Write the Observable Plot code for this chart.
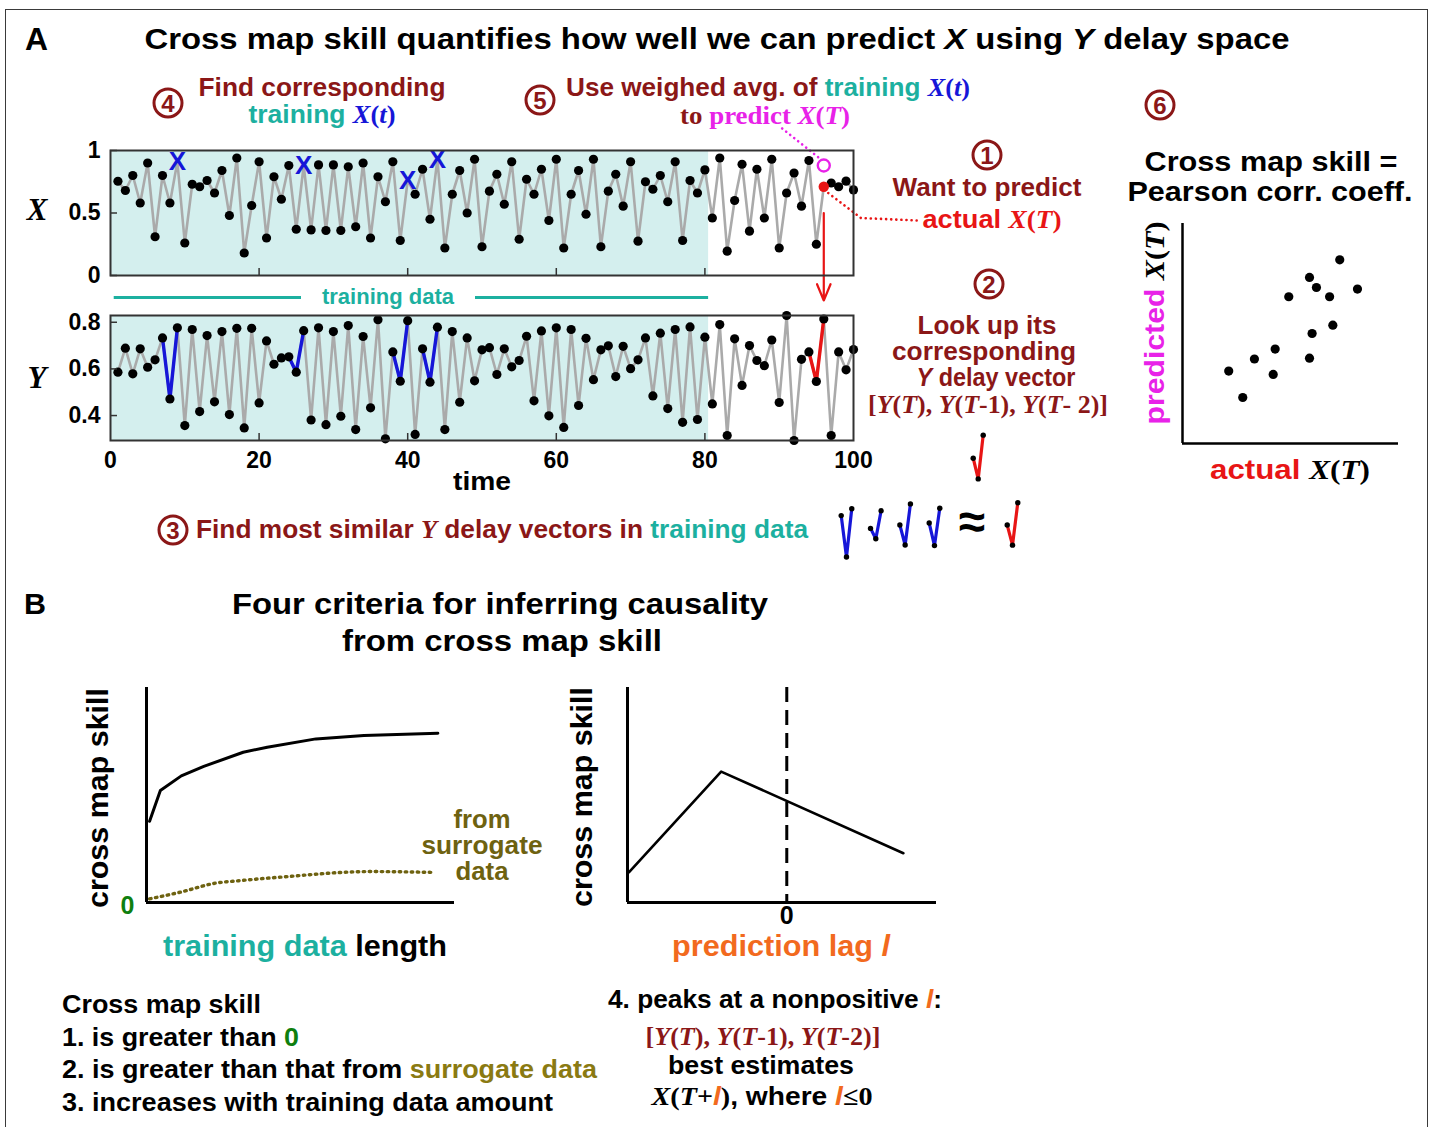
<!DOCTYPE html>
<html>
<head>
<meta charset="utf-8">
<title>Convergent cross mapping</title>
<script src="https://cdn.jsdelivr.net/npm/d3@7"></script>
<script src="https://cdn.jsdelivr.net/npm/@observablehq/plot@0.6"></script>
<style>
  html, body { margin: 0; padding: 0; background: #fff; }
  #fig { position: relative; width: 1432px; height: 1127px; overflow: hidden; background: #fff;
         font-family: "Liberation Sans", Arial, sans-serif; font-weight: bold; color: #000; }
  .border { position: absolute; left: 5px; top: 9px; width: 1423px; height: 1300px;
            border: 1.5px solid #3a3a3a; box-sizing: border-box; }
  .t { position: absolute; white-space: nowrap; line-height: 0.82; }
  .s { font-family: "Liberation Serif", "Times New Roman", serif; font-weight: bold; }
  .circ { position: absolute; width: 25px; height: 25px; border: 3px solid #8b1717; border-radius: 50%;
          color: #8b1717; font-size: 24px; line-height: 26px; text-align: center; transform: translate(-50%, -50%); }
</style>
</head>
<body>
<div id="fig"><div class="border"></div></div>
<script>
// ---- data -------------------------------------------------------------
const time = d3.range(1, 101);
const xValues = [
  0.754, 0.68, 0.80, 0.58, 0.90, 0.31, 0.80, 0.58, 0.91, 0.26,
  0.73, 0.71, 0.76, 0.66, 0.84, 0.48, 0.94, 0.18, 0.56, 0.91,
  0.30, 0.79, 0.61, 0.88, 0.37, 0.88, 0.365, 0.885, 0.36, 0.885,
  0.36, 0.87, 0.39, 0.90, 0.30, 0.79, 0.59, 0.91, 0.28, 0.76,
  0.65, 0.85, 0.45, 0.93, 0.22, 0.65, 0.84, 0.50, 0.93, 0.23,
  0.675, 0.81, 0.57, 0.91, 0.29, 0.77, 0.65, 0.85, 0.44, 0.93,
  0.22, 0.65, 0.84, 0.49, 0.93, 0.23, 0.675, 0.81, 0.555, 0.91,
  0.275, 0.75, 0.69, 0.80, 0.59, 0.91, 0.28, 0.76, 0.66, 0.845,
  0.46, 0.94, 0.195, 0.60, 0.89, 0.355, 0.85, 0.46, 0.93, 0.22,
  0.66, 0.82, 0.555, 0.92, 0.25, 0.71, 0.74, 0.71, 0.755, 0.685
];
const yValues = [
  0.586, 0.689, 0.579, 0.686, 0.607, 0.639, 0.733, 0.471, 0.776, 0.357,
  0.769, 0.417, 0.743, 0.459, 0.760, 0.404, 0.774, 0.347, 0.774, 0.454,
  0.720, 0.620, 0.647, 0.652, 0.586, 0.764, 0.381, 0.776, 0.361, 0.760,
  0.397, 0.786, 0.340, 0.739, 0.433, 0.811, 0.300, 0.673, 0.547, 0.807,
  0.319, 0.686, 0.543, 0.779, 0.340, 0.760, 0.457, 0.733, 0.549, 0.682,
  0.691, 0.576, 0.686, 0.609, 0.636, 0.740, 0.463, 0.763, 0.399, 0.776,
  0.349, 0.769, 0.443, 0.731, 0.554, 0.682, 0.699, 0.567, 0.697, 0.601,
  0.639, 0.733, 0.484, 0.753, 0.430, 0.769, 0.371, 0.780, 0.383, 0.736,
  0.450, 0.790, 0.314, 0.729, 0.529, 0.700, 0.636, 0.614, 0.724, 0.456,
  0.829, 0.293, 0.641, 0.673, 0.546, 0.814, 0.314, 0.673, 0.596, 0.683
];
const training = {start: 0, end: 80.5};
const neighborTimes = [9, 26, 40, 44];
const targetTime = 96;
const predictedX = 0.88;
const embedDim = 3;

const timeTicks = [0, 20, 40, 60, 80, 100];
const xPanelTicks = [0, 0.5, 1];
const yPanelTicks = [0.4, 0.6, 0.8];

// callout leaders (time, value in the X panel)
const predictLeader = [{t: 90.4, v: 1.176}, {t: 95.6, v: 0.93}];
const actualLeader = [{t: 96.6, v: 0.66}, {t: 101, v: 0.46}, {t: 108.5, v: 0.44}];
const arrowSpan = {from: 0.5, to: -0.2};

// actual vs predicted X(T)
const actualX = [2.14, 2.79, 3.33, 4.20, 4.29, 4.92, 5.88, 5.88, 6.00, 6.20, 6.81, 6.96, 7.28, 8.10];
const predictedXs = [3.29, 2.09, 3.84, 3.14, 4.29, 6.67, 7.55, 3.88, 5.00, 7.09, 6.67, 5.38, 8.35, 7.02];

// cross map skill vs training data length
const trainLength = [0.1, 0.45, 1.13, 1.86, 3.14, 3.92, 5.5, 7.06, 9.46];
const skillObserved = [0.378, 0.521, 0.589, 0.633, 0.699, 0.722, 0.761, 0.777, 0.787];
const surrogateLength = [0.1, 1.1, 2.24, 3.05, 4.35, 7.27, 9.33];
const skillSurrogate = [0.017, 0.048, 0.09, 0.102, 0.118, 0.144, 0.14];

// cross map skill vs prediction lag
const lags = [-4.95, -2.06, 3.66];
const skillLag = [0.141, 0.609, 0.229];

// ---- colours ----------------------------------------------------------
const DR = "#8b1717", TEAL = "#1cb0a0", BLUE = "#1616d8", MAGENTA = "#e822e8",
      RED = "#e81515", ORANGE = "#f26a1e", OLIVE = "#6e6210", OLIVE_TXT = "#8a7a12",
      GREEN = "#0f7f0f", SHADE = "#d4efee", GRAY = "#aaaaaa", AXIS = "#333";

// ---- derived tables ---------------------------------------------------
const rows = time.map((t, i) => ({t, x: xValues[i], y: yValues[i]}));
const byTime = new Map(rows.map(d => [d.t, d]));
const delayVector = end => d3.range(end - embedDim + 1, end + 1).map(t => byTime.get(t));
const neighborVectors = neighborTimes.flatMap((end, k) => delayVector(end).map(d => ({...d, group: k})));
const targetVector = delayVector(targetTime);
const marked = new Set([...neighborTimes, targetTime]);
const target = byTime.get(targetTime);
const predicted = {t: targetTime, v: predictedX};
const scatter = actualX.map((a, i) => ({actual: a, predicted: predictedXs[i]}));
const skillRows = trainLength.map((l, i) => ({l, s: skillObserved[i]}));
const surrogateRows = surrogateLength.map((l, i) => ({l, s: skillSurrogate[i]}));
const lagRows = lags.map((l, i) => ({l, s: skillLag[i]}));

// glyphs of the delay vectors, laid out side by side
const glyphSlots = [0, 1, 2, 3];
const targetSlot = 5.66;
const glyphStep = 0.18;
const neighborGlyphs = neighborTimes.flatMap((end, k) =>
  delayVector(end).map((d, j) => ({g: k, pos: glyphSlots[k] + j * glyphStep, v: d.y})));
const targetGlyph = targetVector.map((d, j) => ({pos: targetSlot + j * glyphStep, v: d.y}));
const targetGlyphSmall = targetVector.map((d, j) => ({pos: j, v: d.y}));

// ---- helpers ----------------------------------------------------------
const fig = document.getElementById("fig");
const plotStyle = {background: "none", overflow: "visible", font: "bold 22px 'Liberation Sans', Arial, sans-serif", color: "#000"};
const plain = d => String(d);
function mount(svg, left, top) {
  svg.style.position = "absolute";
  svg.style.left = left + "px";
  svg.style.top = top + "px";
  svg.style.maxWidth = "none";
  fig.appendChild(svg);
}
const c = (color, html) => `<span style="color:${color}">${html}</span>`;
function put(html, x, y, o = {}) {
  const el = document.createElement("div");
  el.className = "t" + (o.serif ? " s" : "");
  el.innerHTML = html;
  el.style.fontSize = (o.size ?? 25) + "px";
  if (o.color) el.style.color = o.color;
  el.style.left = x + "px";
  el.style.top = y + "px";
  if (o.box) {
    el.style.width = o.box + "px";
    el.style.textAlign = "center";
    el.style.background = "#fff";
    el.style.lineHeight = "1";
  }
  fig.appendChild(el);
  const sx = o.w ? o.w / el.getBoundingClientRect().width : 1;
  if (o.anchor === "start") {
    el.style.transformOrigin = "0 50%";
    el.style.transform = `translate(0,-50%) scaleX(${sx})`;
  } else if (o.rotate) {
    el.style.transform = `translate(-50%,-50%) rotate(-90deg) scaleX(${sx})`;
  } else {
    el.style.transform = `translate(-50%,-50%) scaleX(${sx})`;
  }
  return el;
}
function circ(n, x, y) {
  const el = document.createElement("div");
  el.className = "circ";
  el.textContent = n;
  el.style.left = x + "px";
  el.style.top = y + "px";
  fig.appendChild(el);
}

// ---- panel A: X time series -------------------------------------------
const frameW = 743, frameH = 125, tickLen = 7;
mount(Plot.plot({
  width: 940, height: 210, marginLeft: 110, marginRight: 87, marginTop: 50, marginBottom: 35,
  x: {domain: [0, 100], axis: null},
  y: {domain: [0, 1], axis: null},
  style: plotStyle,
  marks: [
    Plot.rect([training], {x1: "start", x2: "end", fill: SHADE}),
    Plot.ruleY([0], {x1: training.start + 0.5, x2: training.end, dy: 22, stroke: TEAL, strokeWidth: 3}),
    Plot.line(rows, {x: "t", y: "x", stroke: GRAY, strokeWidth: 2.6}),
    Plot.dot(rows.filter(d => !marked.has(d.t)), {x: "t", y: "x", r: 4.6, fill: "#000"}),
    Plot.text(rows.filter(d => neighborTimes.includes(d.t)), {x: "t", y: "x", text: () => "X", fill: BLUE, fontSize: 26, fontWeight: "bold"}),
    Plot.line(predictLeader, {x: "t", y: "v", stroke: MAGENTA, strokeWidth: 2.6, strokeDasharray: "0.1,5", strokeLinecap: "round"}),
    Plot.line(actualLeader, {x: "t", y: "v", stroke: RED, strokeWidth: 2.6, strokeDasharray: "0.1,5", strokeLinecap: "round"}),
    Plot.dot([predicted], {x: "t", y: "v", r: 6, stroke: MAGENTA, strokeWidth: 2.4, fill: "none"}),
    Plot.dot([target], {x: "t", y: "x", r: 5.2, fill: RED}),
    Plot.arrow([target], {x: "t", y1: arrowSpan.from, y2: arrowSpan.to, stroke: RED, strokeWidth: 2.2, headLength: 12, headAngle: 45}),
    Plot.tickY(xPanelTicks, {y: d => d, insetRight: frameW - tickLen, stroke: AXIS, strokeWidth: 1.5}),
    Plot.tickX(timeTicks.slice(1, -1), {x: d => d, insetTop: frameH - tickLen, stroke: AXIS, strokeWidth: 1.5}),
    Plot.frame({stroke: AXIS, strokeWidth: 2}),
    Plot.axisY(xPanelTicks, {tickSize: 0, tickPadding: 10, fontSize: 23, tickFormat: plain, label: null})
  ]
}), 0, 100);

// ---- panel A: Y time series -------------------------------------------
mount(Plot.plot({
  width: 940, height: 200, marginLeft: 110, marginRight: 87, marginTop: 35, marginBottom: 40,
  x: {domain: [0, 100], axis: null},
  y: {domain: [0.293, 0.829], axis: null},
  style: plotStyle,
  marks: [
    Plot.rect([training], {x1: "start", x2: "end", fill: SHADE}),
    Plot.line(rows, {x: "t", y: "y", stroke: GRAY, strokeWidth: 2.6}),
    Plot.line(neighborVectors, {x: "t", y: "y", z: "group", stroke: BLUE, strokeWidth: 3.4}),
    Plot.line(targetVector, {x: "t", y: "y", stroke: RED, strokeWidth: 3.4}),
    Plot.dot(rows, {x: "t", y: "y", r: 4.6, fill: "#000"}),
    Plot.tickY(yPanelTicks, {y: d => d, insetRight: frameW - tickLen, stroke: AXIS, strokeWidth: 1.5}),
    Plot.tickX(timeTicks.slice(1, -1), {x: d => d, insetTop: frameH - tickLen, stroke: AXIS, strokeWidth: 1.5}),
    Plot.frame({stroke: AXIS, strokeWidth: 2}),
    Plot.axisY(yPanelTicks, {tickSize: 0, tickPadding: 10, fontSize: 23, tickFormat: plain, label: null}),
    Plot.axisX(timeTicks, {tickSize: 0, tickPadding: 11, fontSize: 23, tickFormat: plain, label: null})
  ]
}), 0, 280);

// ---- delay vector glyphs ----------------------------------------------
mount(Plot.plot({
  width: 220, height: 110, margin: 0,
  x: {domain: [0, 6], range: [20.7, 196.7], axis: null},
  y: {domain: [0.3, 0.9], range: [103.5, 8.7], axis: null},
  style: plotStyle,
  marks: [
    Plot.line(neighborGlyphs, {x: "pos", y: "v", z: "g", stroke: BLUE, strokeWidth: 3.2}),
    Plot.line(targetGlyph, {x: "pos", y: "v", stroke: RED, strokeWidth: 3.2}),
    Plot.dot([...neighborGlyphs, ...targetGlyph], {x: "pos", y: "v", r: 2.7, fill: "#000"})
  ]
}), 820, 480);

mount(Plot.plot({
  width: 40, height: 70, margin: 0,
  x: {domain: [0, 2], range: [12.7, 22.7], axis: null},
  y: {domain: [0.5, 0.85], range: [65.9, 8.8], axis: null},
  style: plotStyle,
  marks: [
    Plot.line(targetGlyphSmall, {x: "pos", y: "v", stroke: RED, strokeWidth: 3.2}),
    Plot.dot(targetGlyphSmall, {x: "pos", y: "v", r: 2.7, fill: "#000"})
  ]
}), 960, 420);

// ---- panel A: actual vs predicted -------------------------------------
mount(Plot.plot({
  width: 320, height: 260, marginLeft: 82, marginRight: 22, marginTop: 23, marginBottom: 17,
  x: {domain: [0, 10], axis: null},
  y: {domain: [0, 10], axis: null},
  style: plotStyle,
  marks: [
    Plot.ruleX([0], {strokeWidth: 2.5}),
    Plot.ruleY([0], {strokeWidth: 2.5}),
    Plot.dot(scatter, {x: "actual", y: "predicted", r: 4.6, fill: "#000"})
  ]
}), 1100, 200);

// ---- panel B: skill vs training data length ---------------------------
mount(Plot.plot({
  width: 420, height: 260, marginLeft: 86, marginRight: 26, marginTop: 17, marginBottom: 28,
  x: {domain: [0, 10], axis: null},
  y: {domain: [0, 1], axis: null},
  style: plotStyle,
  marks: [
    Plot.line(surrogateRows, {x: "l", y: "s", stroke: OLIVE, strokeWidth: 3.4, strokeDasharray: "1.5,4.5", strokeLinecap: "round", curve: "monotone-x"}),
    Plot.line(skillRows, {x: "l", y: "s", stroke: "#000", strokeWidth: 3}),
    Plot.ruleX([0], {strokeWidth: 3}),
    Plot.ruleY([0], {strokeWidth: 3}),
    Plot.axisY([0], {tickSize: 0, tickPadding: 12, dy: 3, fontSize: 25, fill: GREEN, tickFormat: plain, label: null})
  ]
}), 60, 670);

// ---- panel B: skill vs prediction lag ---------------------------------
mount(Plot.plot({
  width: 400, height: 260, marginLeft: 67, marginRight: 24, marginTop: 17, marginBottom: 28,
  x: {domain: [-5, 4.7], axis: null},
  y: {domain: [0, 1], axis: null},
  style: plotStyle,
  marks: [
    Plot.ruleX([0], {strokeWidth: 3, strokeDasharray: "15,8"}),
    Plot.line(lagRows, {x: "l", y: "s", stroke: "#000", strokeWidth: 2.6}),
    Plot.ruleX([-5], {strokeWidth: 3}),
    Plot.ruleY([0], {strokeWidth: 3}),
    Plot.axisX([0], {tickSize: 0, tickPadding: 4, fontSize: 25, tickFormat: plain, label: null})
  ]
}), 560, 670);

// ---- text -------------------------------------------------------------
const sXt = color => `<span class="s" style="color:${color}"><i>X</i>(<i>t</i>)</span>`;
const sXT = color => `<span class="s" style="color:${color}"><i>X</i>(<i>T</i>)</span>`;

put("A", 25, 40, {anchor: "start", size: 31, w: 23});
put(`Cross map skill quantifies how well we can predict <i>X</i> using <i>Y</i> delay space`, 717, 40, {size: 29, w: 1145});

circ(4, 168, 103);
put("Find corresponding", 322, 88, {size: 26, w: 247, color: DR});
put(`${c(TEAL, "training")} ${sXt(BLUE)}`, 322, 115, {size: 26, w: 147});

circ(5, 540, 100);
put(`Use weighed avg. of ${c(TEAL, "training")} ${sXt(BLUE)}`, 566, 88, {anchor: "start", size: 26, w: 404, color: DR});
put(`${c(DR, "to")} ${c(MAGENTA, "predict <i>X</i>(<i>T</i>)")}`, 765, 116, {serif: true, size: 26, w: 170});

circ(1, 987, 155);
put("Want to predict", 987, 188, {size: 26, w: 189, color: DR});
put(`actual ${sXT(RED)}`, 992, 220, {size: 26, w: 139, color: RED});

circ(2, 989, 284);
put("Look up its", 987, 326, {size: 26, w: 139, color: DR});
put("corresponding", 984, 352, {size: 26, w: 184, color: DR});
put("<i>Y</i> delay vector", 996, 378, {size: 26, w: 159, color: DR});
put("[<i>Y</i>(<i>T</i>), <i>Y</i>(<i>T</i>-1), <i>Y</i>(<i>T</i>- 2)]", 988, 405, {serif: true, size: 26, w: 240, color: DR});

circ(6, 1160, 105);
put("Cross map skill =", 1271, 162, {size: 28, w: 253});
put("Pearson corr. coeff.", 1270, 192, {size: 28, w: 285});
put(`${c(MAGENTA, "predicted")} ${sXT("#000")}`, 1155, 323, {size: 28, w: 203, rotate: true});
put(`${c(RED, "actual")} ${sXT("#000")}`, 1290, 470, {size: 28, w: 160});

put("<i>X</i>", 37, 210, {serif: true, size: 31});
put("<i>Y</i>", 37, 378, {serif: true, size: 31});
put("training data", 388, 297, {size: 22, color: TEAL, box: 174});
put("time", 482, 482, {size: 26, w: 58});

circ(3, 173, 530);
put(`Find most similar <span class="s"><i>Y</i></span> delay vectors in ${c(TEAL, "training data")}`, 196, 530, {anchor: "start", size: 26, w: 612, color: DR});
put("≈", 972, 522, {size: 48});

put("B", 24, 605, {anchor: "start", size: 29, w: 22});
put("Four criteria for inferring causality", 500, 604, {size: 30, w: 536});
put("from cross map skill", 502, 641, {size: 30, w: 320});

put("cross map skill", 98, 798, {size: 30, w: 220, rotate: true});
put("from", 482, 820, {size: 26, w: 57, color: OLIVE});
put("surrogate", 482, 846, {size: 26, w: 121, color: OLIVE});
put("data", 482, 872, {size: 26, w: 53, color: OLIVE});
put(`${c(TEAL, "training data")} length`, 305, 946, {size: 30, w: 284});

put("cross map skill", 582, 797, {size: 30, w: 220, rotate: true});
put("prediction lag <i>l</i>", 781, 946, {size: 30, w: 218, color: ORANGE});

put("Cross map skill", 62, 1005, {anchor: "start", size: 26, w: 199});
put(`1. is greater than ${c(GREEN, "0")}`, 62, 1038, {anchor: "start", size: 26, w: 237});
put(`2. is greater than that from ${c(OLIVE_TXT, "surrogate data")}`, 62, 1070, {anchor: "start", size: 26, w: 535});
put("3. increases with training data amount", 62, 1103, {anchor: "start", size: 26, w: 491});

put(`4. peaks at a nonpositive ${c(ORANGE, "<i>l</i>")}:`, 608, 1000, {anchor: "start", size: 26, w: 334});
put("[<i>Y</i>(<i>T</i>), <i>Y</i>(<i>T</i>-1), <i>Y</i>(<i>T</i>-2)]", 763, 1037, {serif: true, size: 26, w: 235, color: DR});
put("best estimates", 761, 1066, {size: 26, w: 186});
put(`<span class="s"><i>X</i>(<i>T</i>+</span>${c(ORANGE, "<i>l</i>")}<span class="s">)</span>, where ${c(ORANGE, "<i>l</i>")}<span class="s">≤0</span>`, 762, 1097, {size: 26, w: 221});
</script>
</body>
</html>
